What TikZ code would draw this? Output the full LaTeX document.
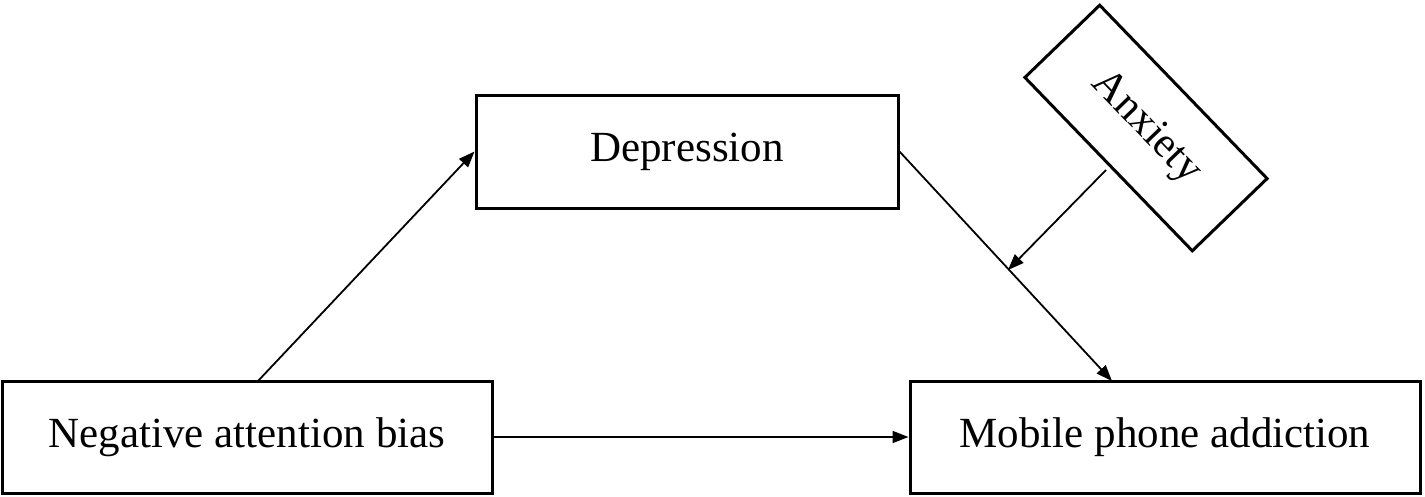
\documentclass[tikz,border=0pt]{standalone}
\usepackage{fontspec}
\setmainfont{Liberation Serif}
\usetikzlibrary{arrows.meta}
\begin{document}
\begin{tikzpicture}[x=1pt,y=-1pt,
  box/.style={draw,line width=3pt,inner sep=0pt,font=\fontsize{43}{45}\selectfont},
  arr/.style={line width=1.8pt,-{Triangle[length=16pt,width=12pt]}}]
\useasboundingbox (0,0) rectangle (1425,496);
\node[box,minimum width=490pt,minimum height=112pt] (nab) at (247,437) {Negative attention bias};
\node[box,minimum width=510pt,minimum height=112pt] (mpa) at (1165,437) {Mobile phone addiction};
\node[box,minimum width=422pt,minimum height=113pt] (dep) at (687,151.5) {Depression};
\node[box,minimum width=241pt,minimum height=104pt,rotate=-46] (anx) at (1146,128) {Anxiety};
\coordinate (a1) at (258,381);
\coordinate (m) at (1008,270);
\coordinate (s) at (1106,170);
\draw[arr] (a1) -- (dep.west);
\draw[arr] (nab.east) -- (mpa.west);
\draw[arr] (dep.east) -- (1112,381);
\draw[arr] (s) -- (m);
\end{tikzpicture}
\end{document}
